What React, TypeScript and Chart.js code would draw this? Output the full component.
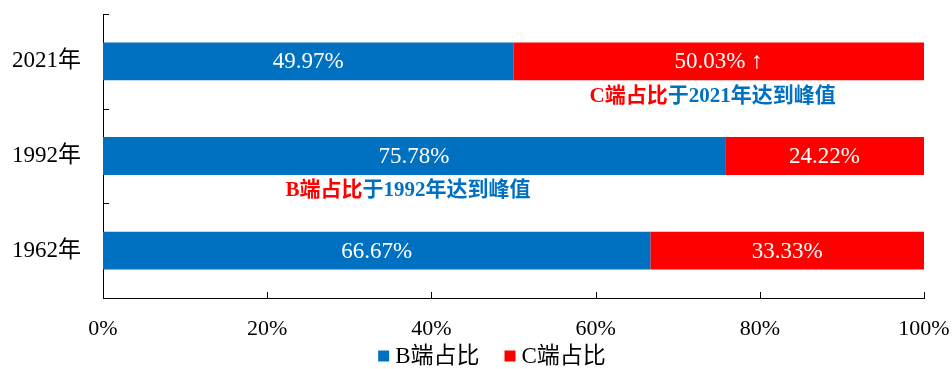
import React, { useEffect, useRef } from "react";
import { Chart, registerables } from "chart.js";

Chart.register(...registerables);

const categories = ["2021年", "1992年", "1962年"];
const seriesBName = "B端占比";
const seriesCName = "C端占比";
const seriesB = [49.97, 75.78, 66.67];
const seriesC = [50.03, 24.22, 33.33];
const labelsB = ["49.97%", "75.78%", "66.67%"];
const labelsC = ["50.03% ↑", "24.22%", "33.33%"];
const xTicks = [0, 20, 40, 60, 80, 100];
// annotations: category index, series index (0 = B, 1 = C), coloured prefix, rest
const noteCategory = [0, 1];
const noteSeries = [1, 0];
const notePrefix = ["C端占比", "B端占比"];
const noteRest = ["于2021年达到峰值", "于1992年达到峰值"];

const BLUE = "#0070C0";
const RED = "#FF0000";
const SERIF = '"Liberation Serif", "Times New Roman", "Noto Sans CJK SC", serif';
const NOTE_FONT = 'bold 21px "Liberation Serif", "Noto Sans CJK SC", serif';

const overlayPlugin = {
  id: "overlay",
  afterDatasetsDraw(chart: any) {
    const ctx = chart.ctx;
    const xs = chart.scales.x;
    const ys = chart.scales.y;
    const area = chart.chartArea;
    ctx.save();
    // inward ticks
    ctx.strokeStyle = "#000";
    ctx.lineWidth = 1;
    const n = categories.length;
    for (let i = 0; i <= n; i++) {
      const y = Math.round(area.top + ((area.bottom - area.top) * i) / n) + 0.5;
      ctx.beginPath();
      ctx.moveTo(area.left, y);
      ctx.lineTo(area.left + 6, y);
      ctx.stroke();
    }
    xTicks.forEach((v) => {
      if (v === 0) return;
      const x = Math.round(xs.getPixelForValue(v)) + 0.5;
      ctx.beginPath();
      ctx.moveTo(x, area.bottom);
      ctx.lineTo(x, area.bottom - 6);
      ctx.stroke();
    });
    // value labels
    ctx.fillStyle = "#fff";
    ctx.font = `23px ${SERIF}`;
    ctx.textAlign = "center";
    ctx.textBaseline = "middle";
    const texts = [labelsB, labelsC];
    chart.data.datasets.forEach((_: any, di: number) => {
      const meta = chart.getDatasetMeta(di);
      meta.data.forEach((el: any, i: number) => {
        const c = el.getCenterPoint();
        ctx.fillText(texts[di][i], c.x, c.y + 1);
      });
    });
    // annotations
    ctx.font = NOTE_FONT;
    ctx.textAlign = "left";
    noteCategory.forEach((ci, k) => {
      const meta = chart.getDatasetMeta(noteSeries[k]);
      const el: any = meta.data[ci];
      const cx = (el.x + el.base) / 2 - 6;
      const cy = ys.getPixelForValue(ci) + 35;
      const w1 = ctx.measureText(notePrefix[k]).width;
      const w2 = ctx.measureText(noteRest[k]).width;
      const x = cx - (w1 + w2) / 2;
      ctx.fillStyle = RED;
      ctx.fillText(notePrefix[k], x, cy);
      ctx.fillStyle = BLUE;
      ctx.fillText(noteRest[k], x + w1, cy);
    });
    // legend
    ctx.font = `23px ${SERIF}`;
    const items = chart.data.datasets.map((d: any) => ({
      text: d.label,
      color: d.backgroundColor,
      w: ctx.measureText(d.label).width,
    }));
    const box = 11;
    const gap = 6;
    const itemGap = 25;
    const total = items.reduce((s: number, it: any) => s + box + gap + it.w, 0) + itemGap * (items.length - 1);
    let lx = chart.width / 2 + 16 - total / 2;
    const ly = 356;
    items.forEach((it: any) => {
      ctx.fillStyle = it.color;
      ctx.fillRect(lx, ly - box / 2, box, box);
      ctx.fillStyle = "#000";
      ctx.fillText(it.text, lx + box + gap, ly + 1);
      lx += box + gap + it.w + itemGap;
    });
    ctx.restore();
  },
};

export default function App() {
  const ref = useRef<HTMLCanvasElement>(null);
  useEffect(() => {
    document.body.style.margin = "0";
    const chart = new Chart(ref.current!, {
      type: "bar",
      data: {
        labels: categories,
        datasets: [
          {
            label: seriesBName,
            data: seriesB,
            backgroundColor: BLUE,
            barPercentage: 0.8,
            categoryPercentage: 0.5,
          },
          {
            label: seriesCName,
            data: seriesC,
            backgroundColor: RED,
            barPercentage: 0.8,
            categoryPercentage: 0.5,
          },
        ],
      },
      options: {
        indexAxis: "y",
        animation: false,
        responsive: false,
        layout: { padding: { top: 14, right: 28, left: 0, bottom: 31 } },
        scales: {
          x: {
            stacked: true,
            min: 0,
            max: 100,
            ticks: {
              stepSize: 20,
              color: "#000",
              font: { family: SERIF, size: 22 },
              padding: 10,
              maxRotation: 0,
              callback: (v: any) => `${v}%`,
            },
            grid: { display: false },
            border: { display: true, color: "#000", width: 1 },
            afterFit: (s: any) => {
              s.height = 40;
              s.paddingLeft = 0;
              s.paddingRight = 0;
            },
          },
          y: {
            stacked: true,
            ticks: {
              color: "#000",
              font: { family: SERIF, size: 23 },
              padding: 14,
            },
            grid: { display: false },
            border: { display: true, color: "#000", width: 1 },
            afterFit: (s: any) => {
              s.width = 103;
              s.paddingTop = 0;
              s.paddingBottom = 0;
            },
          },
        },
        plugins: {
          legend: { display: false },
          tooltip: { enabled: false },
        },
      },
      plugins: [overlayPlugin],
    });
    return () => chart.destroy();
  }, []);
  return (
    <div style={{ width: 952, height: 369 }}>
      <canvas ref={ref} width={952} height={369} style={{ display: "block" }} />
    </div>
  );
}
